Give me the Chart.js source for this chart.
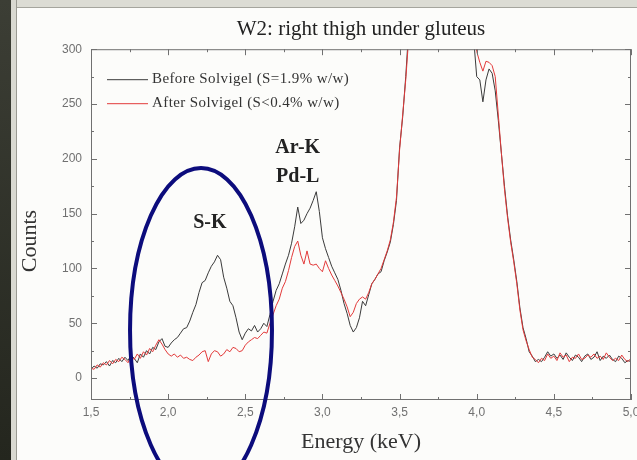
<!DOCTYPE html>
<html>
<head>
<meta charset="utf-8">
<script src="https://cdn.jsdelivr.net/npm/chart.js@4.4.1/dist/chart.umd.min.js"></script>
<style>
  html, body { margin: 0; padding: 0; }
  body { width: 637px; height: 460px; overflow: hidden; background: #fcfcfa; position: relative; }
  #photo { position: absolute; left: 0; top: 0; width: 11px; height: 460px; background: linear-gradient(#3c3e35, #24261e); }
  #edge { position: absolute; left: 11px; top: 0; width: 5px; height: 460px; background: #d9d9d1; border-right: 1px solid #9a9a92; }
  #topband { position: absolute; left: 17px; top: 0; width: 620px; height: 7px; background: #dcdcd4; border-bottom: 1px solid #a5a59d; }
  #wrap { position: absolute; left: 0; top: 0; width: 637px; height: 460px; }
</style>
</head>
<body>
<div id="photo"></div>
<div id="edge"></div>
<div id="topband"></div>
<div id="wrap"><canvas id="chart" width="637" height="460"></canvas></div>
<script>
// channel calibration of the spectrum (keV)
const E0 = 1.5;
const STEP = 0.02;

// counts per channel (1.50 ... 5.00 keV)
const BEFORE = [
  8, 11, 9, 13, 12, 15, 11, 16, 14, 18,
  15, 19, 16, 21, 18, 14, 22, 19, 25, 22,
  28, 26, 33, 36, 29, 28, 32, 35, 37, 41,
  45, 46, 52, 60, 67, 78, 87, 89, 96, 102,
  106, 112, 108, 92, 82, 70, 66, 55, 42, 35,
  41, 45, 43, 48, 42, 45, 50, 47, 58, 70,
  80, 86, 95, 104, 112, 123, 138, 156, 141, 144,
  150, 155, 162, 170, 152, 128, 118, 110, 102, 96,
  90, 80, 68, 59, 48, 42, 46, 55, 70, 66,
  76, 86, 90, 95, 97, 107, 115, 124, 140, 162,
  210, 238, 275, 320, 380, 450, 520, 580, 620, 640,
  630, 600, 560, 510, 460, 420, 390, 370, 360, 360,
  370, 380, 370, 340, 310, 275, 272, 252, 272, 282,
  278, 262, 235, 205, 175, 148, 126, 108, 88, 64,
  46, 36, 24, 20, 15, 17, 15, 19, 24, 20,
  22, 18, 21, 17, 23, 19, 16, 21, 19, 15,
  20, 22, 17, 19, 24, 16, 20, 18, 21, 17,
  15, 20, 18, 14, 16, 15
];
const AFTER = [
  9, 8, 12, 10, 14, 12, 16, 13, 17, 15,
  19, 17, 14, 20, 17, 22, 18, 24, 21, 27,
  24, 30, 35, 31, 26, 22, 20, 22, 19, 21,
  18, 19, 17, 16, 19, 21, 24, 25, 15, 22,
  25, 24, 20, 22, 26, 24, 28, 27, 24, 25,
  30, 33, 35, 37, 36, 39, 42, 41, 50, 58,
  66, 72, 82, 88, 98, 110, 120, 125, 112, 104,
  116, 104, 103, 104, 100, 97, 107, 100, 94, 89,
  84, 78, 72, 65, 56, 60, 68, 72, 74, 72,
  78, 86, 90, 95, 100, 108, 116, 126, 142, 165,
  208, 240, 272, 312, 370, 440, 510, 570, 615, 635,
  625, 595, 555, 505, 455, 415, 385, 365, 355, 358,
  368, 378, 372, 345, 320, 298, 288, 280, 289, 288,
  285, 275, 240, 205, 172, 146, 124, 106, 86, 62,
  44, 34, 26, 19, 17, 14, 18, 16, 22, 18,
  20, 16, 23, 19, 21, 15, 19, 18, 22, 17,
  18, 21, 19, 22, 18, 20, 17, 23, 19, 16,
  18, 16, 21, 17, 15, 18
];
const ENERGY = BEFORE.map((_, i) => +(E0 + i * STEP).toFixed(2));

const X_TICKS = [1.5, 2.0, 2.5, 3.0, 3.5, 4.0, 4.5, 5.0];
const Y_TICKS = [0, 50, 100, 150, 200, 250, 300];
const SERIES = ["Before Solvigel (S=1.9% w/w)", "After Solvigel (S<0.4% w/w)"];
const PEAKS = ["S-K", "Ar-K", "Pd-L"];

const SERIF = "'Liberation Serif', 'DejaVu Serif', serif";
const SANS = "'Liberation Sans', Arial, sans-serif";
const COL_BEFORE = "#3a3a3a";
const COL_AFTER = "#e23a3a";

function pts(arr) {
  return arr.map((v, i) => ({ x: ENERGY[i], y: v }));
}

// frame, inward ticks, legend, y title, peak names and the hand-drawn ellipse
const decorations = {
  id: "decorations",
  afterDraw(chart) {
    const { ctx, chartArea: a, scales: { x, y } } = chart;
    ctx.save();

    ctx.strokeStyle = "#707070";
    ctx.lineWidth = 1;
    ctx.strokeRect(a.left + 0.5, a.top + 0.5, a.width - 1, a.height - 1);

    ctx.beginPath();
    for (let e = 1.5; e <= 5.0001; e += 0.25) {
      const px = Math.round(x.getPixelForValue(e)) + 0.5;
      const len = X_TICKS.some((t) => Math.abs(t - e) < 1e-6) ? 6 : 3;
      ctx.moveTo(px, a.bottom); ctx.lineTo(px, a.bottom - len);
      ctx.moveTo(px, a.top); ctx.lineTo(px, a.top + len);
    }
    for (let c = 0; c <= 300; c += 25) {
      const py = Math.round(y.getPixelForValue(c)) + 0.5;
      const len = c % 50 === 0 ? 6 : 3;
      ctx.moveTo(a.left, py); ctx.lineTo(a.left + len, py);
      ctx.moveTo(a.right, py); ctx.lineTo(a.right - len, py);
    }
    ctx.stroke();

    // legend
    ctx.font = "15px " + SERIF;
    ctx.letterSpacing = "0.4px";
    ctx.textBaseline = "middle";
    ctx.textAlign = "left";
    [COL_BEFORE, COL_AFTER].forEach((col, i) => {
      const ly = a.top + 30 + i * 24;
      ctx.strokeStyle = col;
      ctx.lineWidth = 1;
      ctx.beginPath();
      ctx.moveTo(a.left + 16, ly + 0.5);
      ctx.lineTo(a.left + 57, ly + 0.5);
      ctx.stroke();
      ctx.fillStyle = "#333";
      ctx.fillText(SERIES[i], a.left + 61, ly);
    });
    ctx.letterSpacing = "0px";

    // y axis title, set a little below the middle as in the source
    ctx.save();
    ctx.translate(a.left - 61, y.getPixelForValue(125));
    ctx.rotate(-Math.PI / 2);
    ctx.font = "22px " + SERIF;
    ctx.textAlign = "center";
    ctx.fillStyle = "#333";
    ctx.fillText("Counts", 0, 0);
    ctx.restore();

    // peak names
    ctx.font = "bold 20px " + SERIF;
    ctx.textAlign = "center";
    ctx.fillStyle = "#222";
    ctx.fillText(PEAKS[0], x.getPixelForValue(2.27), y.getPixelForValue(142));
    ctx.fillText(PEAKS[1], x.getPixelForValue(2.84), y.getPixelForValue(210));
    ctx.fillText(PEAKS[2], x.getPixelForValue(2.84), y.getPixelForValue(184));

    // ellipse round the S-K peak
    const cx = x.getPixelForValue(2.213);
    const cy = y.getPixelForValue(43.6);
    const rx = x.getPixelForValue(2.213 + 0.46) - cx;
    const ry = cy - y.getPixelForValue(43.6 + 148);
    ctx.strokeStyle = "#0c0c7c";
    ctx.lineWidth = 4;
    ctx.beginPath();
    ctx.ellipse(cx, cy, rx, ry, 0, 0, Math.PI * 2);
    ctx.stroke();

    ctx.restore();
  },
};

new Chart(document.getElementById("chart"), {
  type: "line",
  data: {
    datasets: [
      { label: SERIES[1], data: pts(AFTER), borderColor: COL_AFTER, borderWidth: 1, order: 1 },
      { label: SERIES[0], data: pts(BEFORE), borderColor: COL_BEFORE, borderWidth: 1, order: 2 },
    ],
  },
  options: {
    responsive: false,
    animation: false,
    elements: { point: { radius: 0 }, line: { tension: 0 } },
    layout: { padding: { left: 15, right: 6, top: 7, bottom: 2 } },
    plugins: {
      legend: { display: false },
      tooltip: { enabled: false },
      title: {
        display: true,
        text: "W2: right thigh under gluteus",
        fullSize: false,
        color: "#222",
        font: { family: SERIF, size: 21, weight: "normal" },
        padding: { top: 10, bottom: 7 },
      },
    },
    scales: {
      x: {
        type: "linear",
        min: 1.5,
        max: 5.0,
        grid: { display: false, drawTicks: false },
        border: { display: false },
        afterBuildTicks: (s) => { s.ticks = X_TICKS.map((v) => ({ value: v })); },
        afterFit: (s) => { s.height = 58; s.paddingLeft = 0; s.paddingRight = 0; },
        ticks: {
          autoSkip: false,
          maxRotation: 0,
          padding: 5,
          color: "#707070",
          font: { family: SANS, size: 12 },
          callback: (v) => Number(v).toFixed(1).replace(".", ","),
        },
        title: {
          display: true,
          text: "Energy (keV)",
          color: "#333",
          font: { family: SERIF, size: 22 },
          padding: { top: 0, bottom: 3 },
        },
      },
      y: {
        min: -20,
        max: 300,
        grid: { display: false, drawTicks: false },
        border: { display: false },
        afterBuildTicks: (s) => { s.ticks = Y_TICKS.map((v) => ({ value: v })); },
        afterFit: (s) => { s.width = 76; s.paddingTop = 0; s.paddingBottom = 0; },
        ticks: {
          padding: 9,
          color: "#707070",
          font: { family: SANS, size: 12 },
        },
      },
    },
  },
  plugins: [decorations],
});
</script>
</body>
</html>
